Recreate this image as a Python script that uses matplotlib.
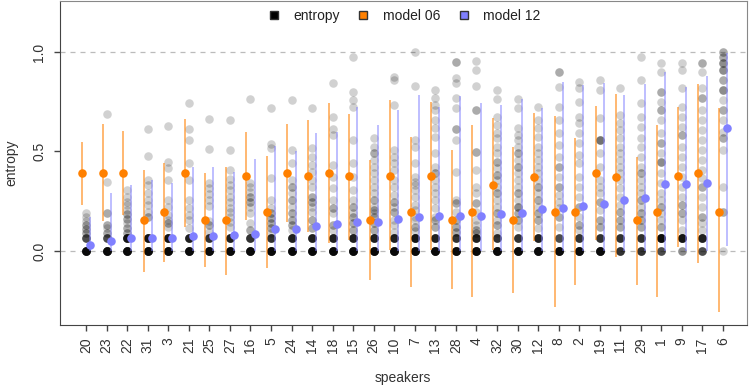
import numpy as np
import matplotlib
matplotlib.use('Agg')
import matplotlib.pyplot as plt
from matplotlib.lines import Line2D

plt.rcParams['font.family'] = ['Liberation Sans', 'DejaVu Sans']

# speakers in plotted order
speakers = ['20', '23', '22', '31', '3', '21', '25', '27', '16', '5', '24', '14', '18', '15', '26', '10',
            '7', '13', '28', '4', '32', '30', '12', '8', '2', '19', '11', '29', '1', '9', '17', '6']

# how many observations sit at 0 and at the lowest non-zero level
n_zero = [15, 15, 15, 15, 15, 15, 15, 15, 15, 15, 15, 15, 15, 15, 15, 15,
          15, 15, 15, 15, 15, 15, 15, 15, 15, 15, 8, 8, 6, 3, 6, 1]
n_low = [6, 6, 12, 12, 12, 10, 8, 10, 8, 8, 10, 10, 10, 10, 10, 10,
         12, 10, 8, 10, 8, 8, 10, 6, 8, 8, 8, 8, 14, 12, 10, 0]
low_level = 0.063

# remaining entropy observations per speaker
ent_vals = [
    [0.089, 0.089, 0.11, 0.11, 0.13, 0.13, 0.15, 0.17, 0.19],
    [0.089, 0.089, 0.114, 0.131, 0.131, 0.193, 0.193, 0.345, 0.687],
    [0.089, 0.089, 0.114, 0.114, 0.139, 0.162, 0.162, 0.184, 0.184, 0.206, 0.231, 0.248, 0.273, 0.307],
    [0.173, 0.173, 0.198, 0.231, 0.256, 0.29, 0.332, 0.357, 0.479, 0.613],
    [0.12, 0.139, 0.139, 0.156, 0.181, 0.223, 0.256, 0.357, 0.419, 0.449, 0.628],
    [0.114, 0.156, 0.181, 0.214, 0.256, 0.357, 0.44, 0.558, 0.613, 0.745],
    [0.097, 0.131, 0.131, 0.151, 0.228, 0.256, 0.286, 0.315, 0.34, 0.511, 0.662],
    [0.122, 0.147, 0.173, 0.198, 0.214, 0.248, 0.273, 0.307, 0.332, 0.36, 0.407, 0.508, 0.658],
    [0.106, 0.106, 0.139, 0.193, 0.223, 0.248, 0.248, 0.273, 0.273, 0.298, 0.323, 0.34, 0.764],
    [0.089, 0.114, 0.114, 0.139, 0.139, 0.164, 0.164, 0.189, 0.189, 0.214, 0.256, 0.365, 0.516, 0.538, 0.717],
    [0.106, 0.131, 0.131, 0.156, 0.156, 0.189, 0.189, 0.223, 0.256, 0.256, 0.29, 0.323, 0.323, 0.357,
     0.44, 0.508, 0.76],
    [0.114, 0.114, 0.156, 0.156, 0.198, 0.223, 0.248, 0.248, 0.273, 0.273, 0.323, 0.357, 0.399, 0.432,
     0.474, 0.516, 0.72],
    [0.106, 0.131, 0.131, 0.189, 0.214, 0.214, 0.256, 0.315, 0.374, 0.432, 0.583, 0.613, 0.675, 0.843],
    [0.106, 0.106, 0.139, 0.139, 0.173, 0.173, 0.189, 0.223, 0.223, 0.256, 0.307, 0.374, 0.44, 0.558,
     0.725, 0.759, 0.80, 0.973],
    [0.106, 0.106, 0.139, 0.139, 0.173, 0.173, 0.189, 0.206, 0.206, 0.223, 0.256, 0.256, 0.29, 0.323,
     0.357, 0.39, 0.424, 0.457, 0.491, 0.491, 0.524, 0.566],
    [0.097, 0.131, 0.156, 0.198, 0.198, 0.223, 0.248, 0.248, 0.281, 0.323, 0.357, 0.407, 0.44, 0.474,
     0.508, 0.734, 0.86, 0.876],
    [0.1, 0.122, 0.122, 0.156, 0.173, 0.206, 0.231, 0.273, 0.307, 0.332, 0.348, 0.374, 0.44, 0.524,
     0.558, 0.831, 0.998],
    [0.122, 0.122, 0.156, 0.156, 0.173, 0.214, 0.256, 0.29, 0.323, 0.357, 0.39, 0.39, 0.424, 0.491,
     0.575, 0.616, 0.658, 0.709, 0.734, 0.767, 0.809],
    [0.097, 0.097, 0.122, 0.122, 0.156, 0.156, 0.198, 0.24, 0.24, 0.256, 0.399, 0.558, 0.613, 0.613,
     0.717, 0.767, 0.843, 0.871, 0.948, 0.948],
    [0.089, 0.089, 0.106, 0.106, 0.131, 0.156, 0.198, 0.24, 0.24, 0.29, 0.323, 0.407, 0.499, 0.499,
     0.709, 0.709, 0.831, 0.91, 0.956],
    [0.089, 0.131, 0.131, 0.156, 0.189, 0.189, 0.223, 0.256, 0.29, 0.29, 0.323, 0.357, 0.382, 0.382,
     0.415, 0.449, 0.449, 0.491, 0.524, 0.566, 0.591, 0.633, 0.675, 0.764, 0.809],
    [0.122, 0.156, 0.156, 0.189, 0.189, 0.223, 0.223, 0.223, 0.256, 0.29, 0.29, 0.323, 0.357, 0.39,
     0.424, 0.424, 0.457, 0.491, 0.491, 0.524, 0.558, 0.583, 0.616, 0.717, 0.762],
    [0.114, 0.156, 0.156, 0.189, 0.189, 0.223, 0.256, 0.256, 0.29, 0.323, 0.323, 0.357, 0.39, 0.424,
     0.457, 0.491, 0.524, 0.575, 0.616, 0.658, 0.722],
    [0.122, 0.173, 0.173, 0.214, 0.248, 0.281, 0.323, 0.323, 0.374, 0.424, 0.424, 0.474, 0.533, 0.591,
     0.658, 0.725, 0.826, 0.901, 0.901],
    [0.106, 0.131, 0.131, 0.173, 0.223, 0.223, 0.273, 0.323, 0.374, 0.44, 0.482, 0.541, 0.591, 0.642,
     0.675, 0.75, 0.817, 0.851],
    [0.122, 0.122, 0.156, 0.156, 0.206, 0.248, 0.248, 0.29, 0.323, 0.357, 0.424, 0.491, 0.558, 0.558,
     0.558, 0.558, 0.667, 0.809, 0.859],
    [0.122, 0.122, 0.156, 0.156, 0.198, 0.198, 0.231, 0.273, 0.315, 0.357, 0.39, 0.424, 0.457, 0.491,
     0.524, 0.566, 0.608, 0.642, 0.683, 0.817],
    [0.122, 0.122, 0.156, 0.156, 0.189, 0.189, 0.223, 0.256, 0.256, 0.29, 0.323, 0.357, 0.39, 0.39,
     0.424, 0.474, 0.524, 0.566, 0.625, 0.675, 0.742, 0.859, 0.977],
    [0.122, 0.122, 0.156, 0.189, 0.223, 0.223, 0.256, 0.29, 0.34, 0.39, 0.449, 0.449, 0.449, 0.491,
     0.541, 0.541, 0.591, 0.658, 0.709, 0.709, 0.75, 0.801, 0.801, 0.901, 0.943],
    [0.106, 0.156, 0.189, 0.189, 0.231, 0.231, 0.273, 0.323, 0.374, 0.424, 0.474, 0.524, 0.583, 0.583,
     0.625, 0.675, 0.725, 0.817, 0.91, 0.943],
    [0.106, 0.139, 0.173, 0.173, 0.223, 0.273, 0.323, 0.323, 0.365, 0.407, 0.457, 0.508, 0.558, 0.608,
     0.658, 0.709, 0.767, 0.767, 0.817, 0.901, 0.943, 0.943],
    [0.198, 0.198, 0.323, 0.508, 0.566, 0.566, 0.6, 0.658, 0.709, 0.709, 0.759, 0.809, 0.809, 0.809,
     0.859, 0.859, 0.91, 0.91, 0.91, 0.943, 0.943, 0.943, 0.977, 0.977, 1.0, 1.0],
]

# model 06: mean and interval
m06_mean = [0.392, 0.392, 0.392, 0.154, 0.198, 0.392, 0.156, 0.156, 0.377, 0.198, 0.392, 0.377, 0.392,
            0.375, 0.154, 0.375, 0.198, 0.377, 0.156, 0.198, 0.332, 0.154, 0.374, 0.198, 0.198, 0.39,
            0.374, 0.154, 0.198, 0.375, 0.39, 0.198]
m06_lo = [0.231, 0.151, 0.18, -0.104, -0.054, 0.122, -0.079, -0.121, 0.156, -0.087, 0.147, 0.097, 0.039,
          0.055, -0.146, 0.005, -0.179, 0.005, -0.193, -0.233, 0.005, -0.213, 0.05, -0.28, -0.171, 0.055,
          -0.028, -0.171, -0.229, 0.022, -0.062, -0.305]
m06_hi = [0.549, 0.637, 0.603, 0.407, 0.444, 0.663, 0.39, 0.424, 0.596, 0.477, 0.637, 0.658, 0.742,
          0.687, 0.457, 0.759, 0.575, 0.75, 0.508, 0.633, 0.67, 0.524, 0.692, 0.68, 0.566, 0.729,
          0.789, 0.474, 0.633, 0.722, 0.838, 0.717]

# model 12: mean and interval
m12_mean = [0.03, 0.052, 0.067, 0.067, 0.067, 0.075, 0.077, 0.079, 0.085, 0.109, 0.11, 0.127, 0.134,
            0.146, 0.147, 0.162, 0.169, 0.176, 0.176, 0.178, 0.184, 0.193, 0.209, 0.214, 0.228, 0.236,
            0.256, 0.265, 0.335, 0.335, 0.34, 0.62]
m12_lo = [0.0] * 31 + [0.025]
m12_hi = [0.173, 0.293, 0.332, 0.357, 0.34, 0.424, 0.424, 0.399, 0.461, 0.528, 0.5, 0.591, 0.6, 0.725,
          0.631, 0.709, 0.784, 0.725, 0.779, 0.742, 0.734, 0.762, 0.717, 0.849, 0.834, 0.846, 0.784,
          0.839, 0.898, 0.826, 0.881, 0.993]

orange = '#FF8000'
blue = '#8080FF'
txt = '#333333'

fig = plt.figure(figsize=(7.49, 3.88), dpi=100)
ax = fig.add_axes([60 / 749, 63 / 388, 687 / 749, 324 / 388])

x = np.arange(1, len(speakers) + 1)
off = 0.2

for xl in (0.0, 1.0):
    ax.axhline(xl, color='#BBBBBB', lw=0.9, ls=(0, (4, 4)), zorder=0)

# entropy observations, semi-transparent black
for i, xi in enumerate(x):
    vals = [0.0] * n_zero[i] + [low_level] * n_low[i] + ent_vals[i]
    ax.scatter([xi] * len(vals), vals, s=38, color='black', alpha=0.18, linewidths=0, zorder=2)

ax.vlines(x - off, m06_lo, m06_hi, color=orange, alpha=0.6, lw=1.3, zorder=3)
ax.vlines(x + off, m12_lo, m12_hi, color=blue, alpha=0.55, lw=1.3, zorder=3)
ax.scatter(x - off, m06_mean, s=38, color=orange, linewidths=0, zorder=4)
ax.scatter(x + off, m12_mean, s=38, color=blue, linewidths=0, zorder=4)

ax.set_xlim(-0.27, 33.17)
ax.set_ylim(-0.372, 1.256)
ax.set_xticks(x)
ax.set_xticklabels(speakers, rotation=90, fontsize=10, color=txt)
ax.set_yticks([0.0, 0.5, 1.0])
ax.set_yticklabels(['0.0', '0.5', '1.0'], rotation=90, va='center', fontsize=10, color=txt)
ax.tick_params(axis='x', length=4, width=1, color='#444444', pad=5)
ax.tick_params(axis='y', length=4, width=1, color='#444444', pad=6)

for side in ('left', 'bottom'):
    ax.spines[side].set_color('#444444')
for side in ('top', 'right'):
    ax.spines[side].set_color('#888888')

fig.text(403 / 749, 1 - 378 / 388, 'speakers', ha='center', va='center', fontsize=10, color=txt)
fig.text(11 / 749, 1 - 163 / 388, 'entropy', rotation=90, ha='center', va='center', fontsize=10, color=txt)

handles = [
    Line2D([], [], ls='none', marker='s', ms=6, mfc='black', mec='#333333'),
    Line2D([], [], ls='none', marker='s', ms=6, mfc=orange, mec='#333333'),
    Line2D([], [], ls='none', marker='s', ms=6, mfc=blue, mec='#333333'),
]
ax.legend(handles, ['entropy', 'model 06', 'model 12'], loc='upper center', bbox_to_anchor=(0.5, 1.0),
          ncol=3, frameon=False, fontsize=10, handlelength=1.0, handletextpad=0.9, columnspacing=1.2,
          borderaxespad=0.2, labelcolor='#222222')

fig.savefig('out.png', dpi=100)
